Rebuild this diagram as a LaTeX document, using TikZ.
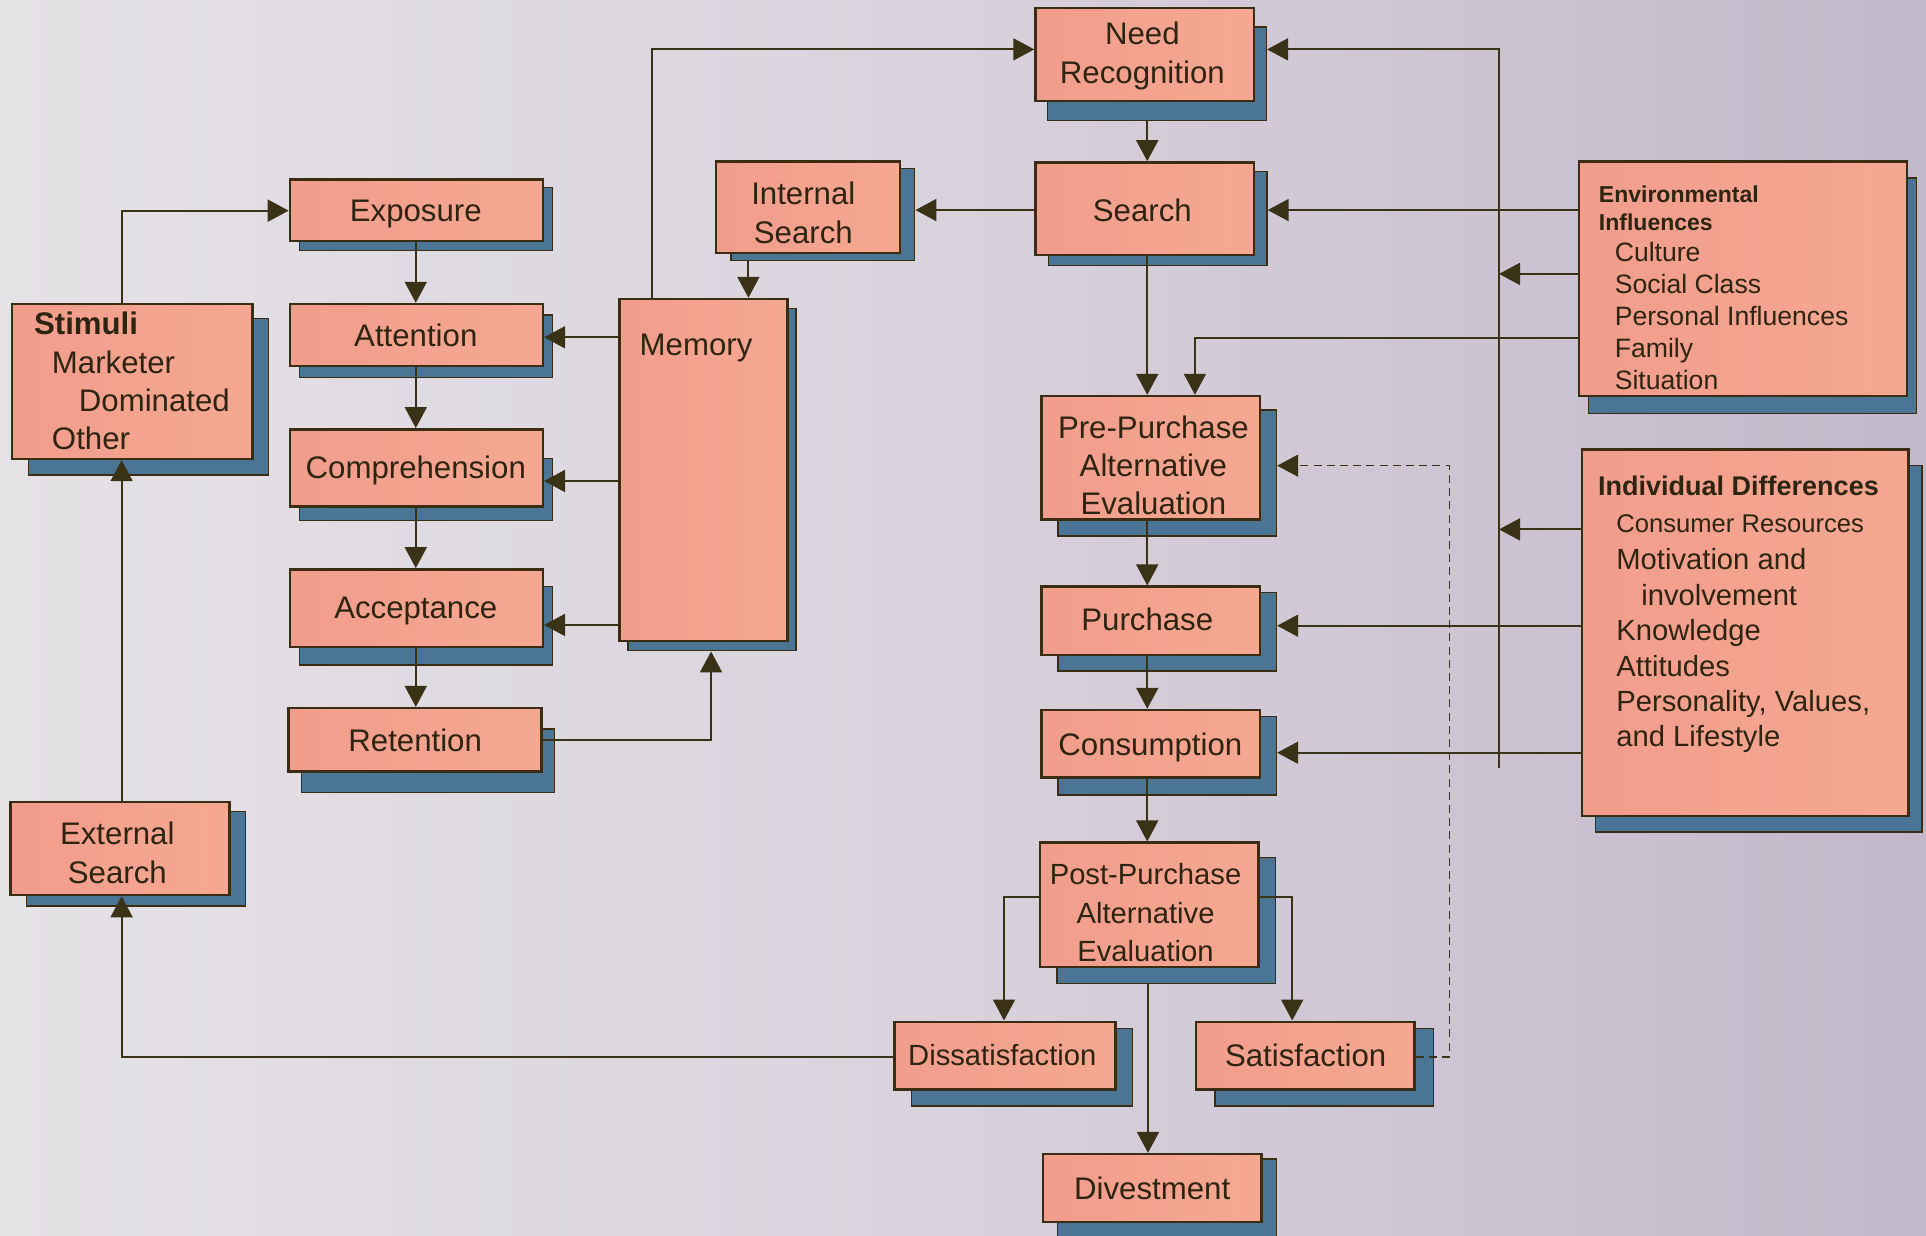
\documentclass[tikz,border=0pt]{standalone}
\usepackage{fontspec}
\setmainfont{Liberation Sans}
\usetikzlibrary{arrows.meta,fit,calc}
\definecolor{bgL}{HTML}{E5E2E6}
\definecolor{bgM}{HTML}{D8D2DC}
\definecolor{bgR}{HTML}{C1B8C9}
\definecolor{boxL}{HTML}{F19D8C}
\definecolor{boxR}{HTML}{F5A891}
\definecolor{shadc}{HTML}{4A7595}
\definecolor{bordc}{HTML}{3B2C14}
\definecolor{linec}{HTML}{3A3216}
\definecolor{textc}{HTML}{2E2412}
\tikzset{
  bx/.style={draw=bordc, line width=1.2pt, left color=boxL, right color=boxR, inner sep=0pt},
  shd/.style={draw=bordc, line width=0.7pt, fill=shadc, inner sep=0pt},
  lnk/.style={draw=linec, line width=1pt, -{Triangle[length=10.5pt,width=11pt]}},
  dlnk/.style={draw=linec, line width=0.8pt, dash pattern=on 4pt off 2.6pt, -{Triangle[length=10.5pt,width=11pt]}},
  mtxt/.style={text=textc, inner sep=0pt, font=\fontsize{15.6}{19.2}\selectfont, align=center},
  stxt/.style={text=textc, inner sep=0pt, font=\fontsize{14.6}{19.2}\selectfont, align=center},
  etxt/.style={text=textc, inner sep=0pt, font=\fontsize{13.3}{16}\selectfont, anchor=base west},
  ehd/.style={text=textc, inner sep=0pt, font=\fontsize{11.5}{14}\selectfont\bfseries, anchor=base west},
  itxt/.style={text=textc, inner sep=0pt, font=\fontsize{14.6}{17}\selectfont, anchor=base west},
  ihd/.style={text=textc, inner sep=0pt, font=\fontsize{13.5}{16}\selectfont\bfseries, anchor=base west},
}
% name, x1, y1, x2, y2, dx, dy-top, dy-bottom
\newcommand\mkbox[8]{%
  \node[shd, fit={(#2+#6,#3+#7) (#4+#6,#5+#8)}] (#1S) {};
  \node[bx, fit={(#2,#3) (#4,#5)}] (#1) {};
}
\begin{document}
\begin{tikzpicture}[x=0.61415pt, y=-0.61415pt]
\useasboundingbox (0,0) rectangle (1568,1006);
\shade[left color=bgL, right color=bgR, middle color=bgM] (0,0) rectangle (1568,1006);

% boxes
\mkbox{need}{843}{6.5}{1021}{82}{10}{15.5}{16}
\mkbox{search}{843}{132.2}{1021}{207.6}{10.5}{7.6}{8.7}
\mkbox{intl}{583}{131.6}{732.7}{206.2}{12}{5.4}{6}
\mkbox{expo}{236}{146}{442}{196.2}{8}{6.8}{7.9}
\mkbox{attn}{236}{247.5}{442}{298}{8}{9}{9.5}
\mkbox{comp}{236}{349.5}{442}{412.5}{8}{23.6}{11.4}
\mkbox{acc}{236}{463.5}{442}{526.5}{8}{14}{15}
\mkbox{ret}{235}{576.5}{441}{628.2}{10.5}{17}{16.8}
\mkbox{mem}{504.2}{243.4}{641}{522}{7}{7.6}{7.8}
\mkbox{stim}{10}{247.5}{205.6}{373.7}{13}{11.6}{13}
\mkbox{ext}{8.4}{652.7}{187}{728.7}{13}{8}{9}
\mkbox{env}{1285.4}{131.6}{1552.3}{322.4}{8}{13.4}{14}
\mkbox{ind}{1287.8}{365.8}{1553.7}{664.3}{11}{13}{13}
\mkbox{pre}{847.8}{322.4}{1025.7}{422.8}{13.5}{11.4}{13.6}
\mkbox{pur}{847.8}{477.6}{1025.7}{533.3}{13.5}{5}{13}
\mkbox{cons}{847.8}{578}{1025.7}{633.1}{13.5}{5.5}{14}
\mkbox{post}{846.5}{686}{1024.6}{787}{14}{12}{13.6}
\mkbox{dis}{728.3}{831.8}{908.2}{886.9}{14}{5.4}{13.5}
\mkbox{sat}{973.7}{831.8}{1151.7}{886.9}{15.5}{5.4}{13.4}
\mkbox{div}{849}{939.5}{1027}{994.6}{12}{4}{12}

% texts of the main boxes
\node[mtxt, anchor=north] (tneed) at (930,17.6) {Need\\Recognition};
\node[mtxt, anchor=base] (tsearch) at (930,180.5) {Search};
\node[mtxt, anchor=north] (tintl) at (654,147.9) {Internal\\Search};
\node[mtxt, anchor=base] (texpo) at (338.5,180.5) {Exposure};
\node[mtxt, anchor=base] (tattn) at (338.5,282.3) {Attention};
\node[mtxt, anchor=base] (tcomp) at (338.5,389.4) {Comprehension};
\node[mtxt, anchor=base] (tacc) at (338.5,503.4) {Acceptance};
\node[mtxt, anchor=base] (tret) at (338,612) {Retention};
\node[mtxt, anchor=base west] (tmem) at (520.5,289.8) {Memory};
\node[mtxt, anchor=north] (text) at (95.5,669) {External\\Search};
\node[mtxt, anchor=north] (tpre) at (939,337.9) {Pre-Purchase\\Alternative\\Evaluation};
\node[mtxt, anchor=base] (tpur) at (934,512.9) {Purchase};
\node[mtxt, anchor=base] (tcons) at (936.5,614.7) {Consumption};
\node[stxt, anchor=north] (tpost) at (932.6,702.9) {Post-Purchase\\Alternative\\Evaluation};
\node[stxt, anchor=base] (tdis) at (816,867.1) {Dissatisfaction};
\node[mtxt, anchor=base] (tsat) at (1063,868.4) {Satisfaction};
\node[mtxt, anchor=base] (tdiv) at (938,976.4) {Divestment};

% Stimuli
\node[mtxt, anchor=base west, font=\fontsize{15.6}{19}\selectfont\bfseries] (ts1) at (27.4,272.7) {Stimuli};
\node[mtxt, anchor=base west] (ts2) at (42,304) {Marketer};
\node[mtxt, anchor=base west] (ts3) at (63.9,335) {Dominated};
\node[mtxt, anchor=base west] (ts4) at (42,365.8) {Other};

% Environmental influences
\node[ehd] (te1) at (1301.4,165) {Environmental};
\node[ehd] (te2) at (1301.4,188) {Influences};
\node[etxt] (te3) at (1314.3,213) {Culture};
\node[etxt] (te4) at (1314.3,239) {Social Class};
\node[etxt] (te5) at (1314.3,265) {Personal Influences};
\node[etxt] (te6) at (1314.3,291) {Family};
\node[etxt] (te7) at (1314.3,317) {Situation};

% Individual differences
\node[ihd] (ti1) at (1300.8,403.5) {Individual Differences};
\node[itxt, font=\fontsize{12.8}{15}\selectfont] (ti2) at (1315.6,433.7) {Consumer Resources};
\node[itxt] (ti3) at (1315.6,464) {Motivation and};
\node[itxt] (ti4) at (1335.9,493) {involvement};
\node[itxt] (ti5) at (1315.6,521.6) {Knowledge};
\node[itxt] (ti6) at (1315.6,550.4) {Attitudes};
\node[itxt] (ti7) at (1315.6,579.4) {Personality, Values,};
\node[itxt] (ti8) at (1315.6,607.9) {and Lifestyle};

% bend points
\coordinate (cMN) at (531.1,40.2);
\coordinate (cMid) at (934,0);
\coordinate (cIM) at (609.3,0);
\coordinate (rTop) at (1220.4,40.2);
\coordinate (rBot) at (1220.4,625.5);
\coordinate (yS) at (0,171);
\coordinate (e2) at (1220.4,223);
\coordinate (e3) at (972.8,275);
\coordinate (i1) at (1220.4,431);
\coordinate (i2) at (0,509.4);
\coordinate (i3) at (0,612.8);
\coordinate (d1) at (1180,860.3);
\coordinate (d2) at (1180,379.1);
\coordinate (p1) at (817.4,730);
\coordinate (p2) at (1052,730);
\coordinate (cDiv) at (934.6,0);
\coordinate (q1) at (99,860.3);
\coordinate (s1) at (99.7,171.5);
\coordinate (cL) at (338.5,0);
\coordinate (a1) at (0,274.6);
\coordinate (a2) at (0,391.6);
\coordinate (a3) at (0,508.8);
\coordinate (r1) at (578.9,602.5);

% connectors
\draw[lnk] (mem.north -| cMN) -- (cMN) -- (need.west |- cMN);
\draw[lnk] (needS.south -| cMid) -- (search.north -| cMid);
\draw[lnk] (search.west |- yS) -- (intlS.east |- yS);
\draw[lnk] (intlS.south -| cIM) -- (mem.north -| cIM);
\draw[lnk] (rBot) -- (rTop) -- (needS.east |- rTop);
\draw[lnk] (env.west |- yS) -- (searchS.east |- yS);
\draw[lnk] (env.west |- e2) -- (e2);
\draw[lnk] (env.west |- e3) -- (e3) -- (pre.north -| e3);
\draw[lnk] (search.south -| cMid) -- (pre.north -| cMid);
\draw[lnk] (pre.south -| cMid) -- (pur.north -| cMid);
\draw[lnk] (pur.south -| cMid) -- (cons.north -| cMid);
\draw[lnk] (cons.south -| cMid) -- (post.north -| cMid);
\draw[lnk] (ind.west |- i1) -- (i1);
\draw[lnk] (ind.west |- i2) -- (purS.east |- i2);
\draw[lnk] (ind.west |- i3) -- (consS.east |- i3);
\draw[dlnk] (sat.east |- d1) -- (d1) -- (d2) -- (preS.east |- d2);
\draw[lnk] (post.west |- p1) -- (p1) -- (dis.north -| p1);
\draw[lnk] (post.east |- p2) -- (p2) -- (sat.north -| p2);
\draw[lnk] (postS.south -| cDiv) -- (div.north -| cDiv);
\draw[lnk] (dis.west |- q1) -- (q1) -- (ext.south -| q1);
\draw[lnk] (ext.north -| q1) -- (stim.south -| q1);
\draw[lnk] (stim.north -| s1) -- (s1) -- (expo.west |- s1);
\draw[lnk] (expo.south -| cL) -- (attn.north -| cL);
\draw[lnk] (attn.south -| cL) -- (comp.north -| cL);
\draw[lnk] (comp.south -| cL) -- (acc.north -| cL);
\draw[lnk] (acc.south -| cL) -- (ret.north -| cL);
\draw[lnk] (mem.west |- a1) -- (attn.east |- a1);
\draw[lnk] (mem.west |- a2) -- (comp.east |- a2);
\draw[lnk] (mem.west |- a3) -- (acc.east |- a3);
\draw[lnk] (ret.east |- r1) -- (r1) -- (memS.south -| r1);
\end{tikzpicture}
\end{document}
